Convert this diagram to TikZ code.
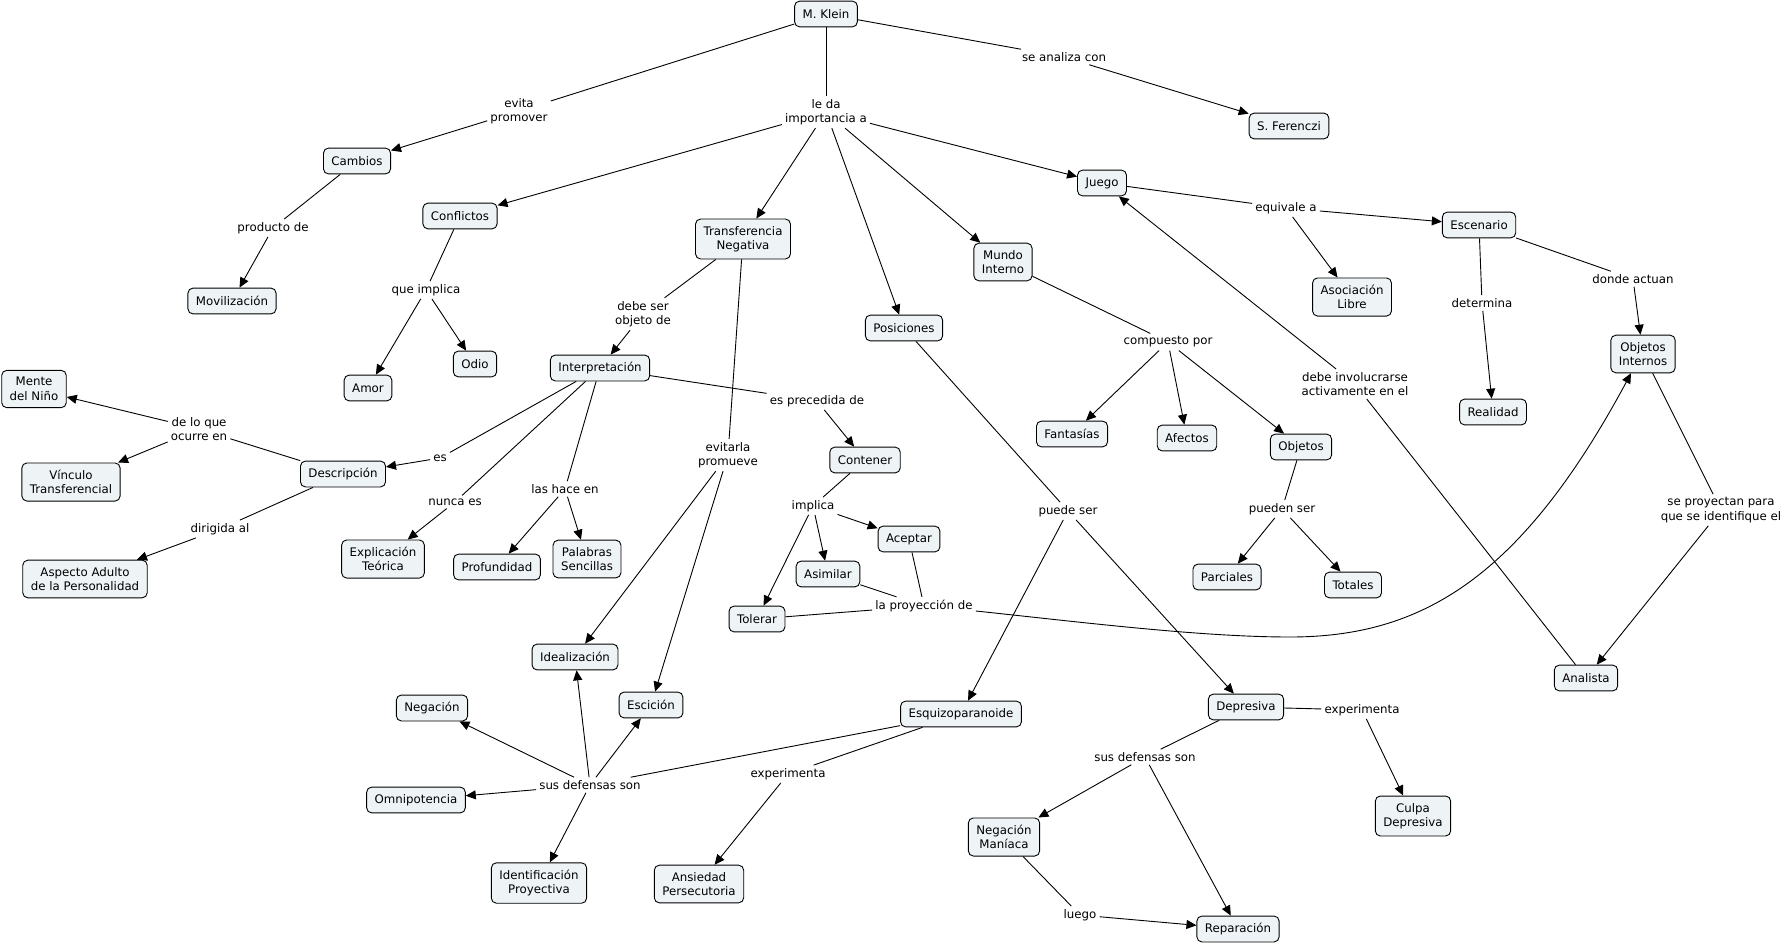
\documentclass[tikz,border=0pt]{standalone}
\usepackage{fontspec}
\setmainfont{DejaVu Sans}
\usetikzlibrary{arrows.meta}
\definecolor{boxfill}{RGB}{238,243,246}
\begin{document}
\begin{tikzpicture}[x=1pt,y=-1pt,
  every node/.style={font=\fontsize{11.8}{14.5}\selectfont, align=center},
  concept/.style={draw=black, line width=0.9pt, rounded corners=5pt, fill=boxfill, inner xsep=8pt, inner ysep=7pt, minimum height=25.8pt},
  phrase/.style={inner sep=3pt},
  link/.style={draw=black, line width=0.9pt},
  arr/.style={link, -{Triangle[length=10pt,width=9pt]}}]
\useasboundingbox[fill=white] (0,0) rectangle (1786,945);

% concepts
\node[concept] (mk) at (826,14) {M. Klein};
\node[concept] (cam) at (357,161) {Cambios};
\node[concept] (con) at (460,216) {Conflictos};
\node[concept] (mov) at (232,301) {Movilización};
\node[concept] (sf) at (1289,126) {S. Ferenczi};
\node[concept] (jue) at (1102,183) {Juego};
\node[concept] (tn) at (743,239) {Transferencia\\Negativa};
\node[concept] (mi) at (1003,262) {Mundo\\Interno};
\node[concept] (esc) at (1479,225) {Escenario};
\node[concept] (al) at (1352,297) {Asociación\\Libre};
\node[concept] (pos) at (904,328) {Posiciones};
\node[concept] (oi) at (1643,354) {Objetos\\Internos};
\node[concept] (rea) at (1493,412) {Realidad};
\node[concept] (amor) at (368,388) {Amor};
\node[concept] (odio) at (475,364) {Odio};
\node[concept] (int) at (600,368) {Interpretación};
\node[concept] (mdn) at (34,389) {Mente\\del Niño};
\node[concept] (fan) at (1072,434) {Fantasías};
\node[concept] (afe) at (1187,438) {Afectos};
\node[concept] (obj) at (1301,447) {Objetos};
\node[concept] (desc) at (343,474) {Descripción};
\node[concept] (cont) at (865,460) {Contener};
\node[concept] (vt) at (71,482) {Vínculo\\Transferencial};
\node[concept] (ace) at (909,539) {Aceptar};
\node[concept] (et) at (383,559) {Explicación\\Teórica};
\node[concept] (prof) at (497,567) {Profundidad};
\node[concept] (ps) at (587,559) {Palabras\\Sencillas};
\node[concept] (asi) at (828,574) {Asimilar};
\node[concept] (par) at (1227,577) {Parciales};
\node[concept] (tot) at (1353,585) {Totales};
\node[concept] (aa) at (85,579) {Aspecto Adulto\\de la Personalidad};
\node[concept] (tol) at (757,619) {Tolerar};
\node[concept] (ide) at (575,657) {Idealización};
\node[concept] (ana) at (1586,678) {Analista};
\node[concept] (escis) at (651,705) {Escición};
\node[concept] (neg) at (432,708) {Negación};
\node[concept] (esq) at (961,714) {Esquizoparanoide};
\node[concept] (dep) at (1246,707) {Depresiva};
\node[concept] (omn) at (416,800) {Omnipotencia};
\node[concept] (cd) at (1413,816) {Culpa\\Depresiva};
\node[concept] (nm) at (1004,837) {Negación\\Maníaca};
\node[concept] (ip) at (539,883) {Identificación\\Proyectiva};
\node[concept] (ap) at (699,884) {Ansiedad\\Persecutoria};
\node[concept] (rep) at (1238,929) {Reparación};

% linking phrases
\node[phrase] (pep) at (519,111) {evita\\promover};
\node[phrase] (ple) at (826,112) {le da\\importancia a};
\node[phrase] (psac) at (1064,57) {se analiza con};
\node[phrase] (ppd) at (273,228) {producto de};
\node[phrase] (pqi) at (426,290) {que implica};
\node[phrase] (peq) at (1286,208) {equivale a};
\node[phrase] (pdso) at (643,314) {debe ser\\objeto de};
\node[phrase] (pdet) at (1482,303) {determina};
\node[phrase] (pda) at (1633,279) {donde actuan};
\node[phrase] (pcp) at (1168,342) {compuesto por};
\node[phrase] (pepd) at (817,401) {es precedida de};
\node[phrase] (pdia) at (1355,384) {debe involucrarse\\activamente en el};
\node[phrase] (pdlq) at (199,429) {de lo que\\ocurre en};
\node[phrase] (pes) at (440,458) {es};
\node[phrase] (pevp) at (728,455) {evitarla\\promueve};
\node[phrase] (pne) at (455,502) {nunca es};
\node[phrase] (plhe) at (565,489) {las hace en};
\node[phrase] (pimp) at (813,506) {implica};
\node[phrase] (ppus) at (1068,511) {puede ser};
\node[phrase] (ppds) at (1282,509) {pueden ser};
\node[phrase] (pspi) at (1721,510) {se proyectan para\\que se identifique el};
\node[phrase] (pdal) at (220,529) {dirigida al};
\node[phrase] (plpd) at (924,606) {la proyección de};
\node[phrase] (psds1) at (590,785) {sus defensas son};
\node[phrase] (pexp1) at (788,774) {experimenta};
\node[phrase] (pexp2) at (1362,710) {experimenta};
\node[phrase] (psds2) at (1145,757) {sus defensas son};
\node[phrase] (plue) at (1080,915) {luego};

% connectors
\draw[link] (mk) -- (pep);  \draw[arr] (pep) -- (cam);
\draw[link] (mk) -- (ple);
\draw[arr] (ple) -- (con);
\draw[arr] (ple) -- (tn);
\draw[arr] (ple) -- (pos);
\draw[arr] (ple) -- (mi);
\draw[arr] (ple) -- (jue);
\draw[link] (mk) -- (psac); \draw[arr] (psac) -- (sf);
\draw[link] (cam) -- (ppd); \draw[arr] (ppd) -- (mov);
\draw[link] (con) -- (pqi); \draw[arr] (pqi) -- (amor); \draw[arr] (pqi) -- (odio);
\draw[link] (tn) -- (pdso); \draw[arr] (pdso) -- (int);
\draw[link] (tn) -- (pevp); \draw[arr] (pevp) -- (ide); \draw[arr] (pevp) -- (escis);
\draw[link] (int) -- (pes); \draw[arr] (pes) -- (desc);
\draw[link] (int) -- (pne); \draw[arr] (pne) -- (et);
\draw[link] (int) -- (plhe); \draw[arr] (plhe) -- (prof); \draw[arr] (plhe) -- (ps);
\draw[link] (int) -- (pepd); \draw[arr] (pepd) -- (cont);
\draw[link] (desc) -- (pdlq); \draw[arr] (pdlq) -- (mdn); \draw[arr] (pdlq) -- (vt);
\draw[link] (desc) -- (pdal); \draw[arr] (pdal) -- (aa);
\draw[link] (cont) -- (pimp); \draw[arr] (pimp) -- (tol); \draw[arr] (pimp) -- (asi); \draw[arr] (pimp) -- (ace);
\draw[link] (tol) -- (plpd); \draw[link] (asi) -- (plpd); \draw[link] (ace) -- (plpd);
\draw[arr] ([yshift=-5pt]plpd.east) .. controls (1080,622) and (1200,637) .. (1290,637)
   .. controls (1420,637) and (1520,580) .. ([xshift=-12pt]oi.south);
\draw[link] (pos) -- (ppus); \draw[arr] (ppus) -- (esq); \draw[arr] (ppus) -- (dep);
\draw[link] (mi) -- (pcp); \draw[arr] (pcp) -- (fan); \draw[arr] (pcp) -- (afe); \draw[arr] (pcp) -- (obj);
\draw[link] (obj) -- (ppds); \draw[arr] (ppds) -- (par); \draw[arr] (ppds) -- (tot);
\draw[link] (jue) -- (peq); \draw[arr] (peq) -- (esc); \draw[arr] (peq) -- (al);
\draw[link] (esc) -- (pdet); \draw[arr] (pdet) -- (rea);
\draw[link] (esc) -- (pda); \draw[arr] (pda) -- (oi);
\draw[link] (oi) -- (pspi); \draw[arr] (pspi) -- (ana);
\draw[link] (ana) -- (pdia); \draw[arr] (pdia) -- (jue);
\draw[link] (esq) -- (psds1);
\draw[arr] (psds1) -- (neg); \draw[arr] (psds1) -- (ide); \draw[arr] (psds1) -- (escis);
\draw[arr] (psds1) -- (omn); \draw[arr] (psds1) -- (ip);
\draw[link] (esq) -- (pexp1); \draw[arr] (pexp1) -- (ap);
\draw[link] (dep) -- (psds2); \draw[arr] (psds2) -- (nm); \draw[arr] (psds2) -- (rep);
\draw[link] (dep) -- (pexp2); \draw[arr] (pexp2) -- (cd);
\draw[link] (nm) -- (plue); \draw[arr] (plue) -- (rep);
\end{tikzpicture}
\end{document}
